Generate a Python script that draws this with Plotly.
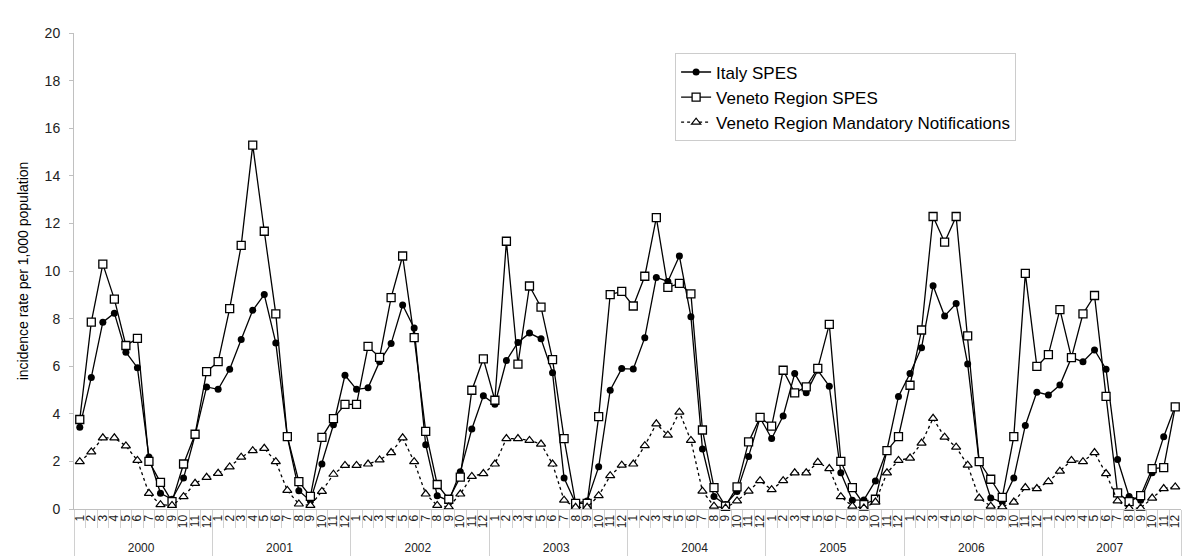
import plotly.graph_objects as go

years = ["2000", "2001", "2002", "2003", "2004", "2005", "2006", "2007"]
months = [str(m) for m in range(1, 13)]

italy_spes = [
    3.44, 5.53, 7.85, 8.23, 6.59, 5.94, 2.18, 0.66, 0.41, 1.30, 3.11, 5.13,
    5.03, 5.87, 7.12, 8.35, 9.01, 6.98, 3.04, 0.77, 0.34, 1.89, 3.54, 5.62,
    5.03, 5.09, 6.19, 6.95, 8.57, 7.60, 2.70, 0.56, 0.34, 1.56, 3.36, 4.76,
    4.40, 6.24, 7.00, 7.39, 7.15, 5.72, 1.30, 0.24, 0.34, 1.77, 4.99, 5.90,
    5.88, 7.20, 9.73, 9.56, 10.63, 8.08, 2.52, 0.52, 0.19, 0.74, 2.21, 3.83,
    2.96, 3.91, 5.69, 4.88, 5.83, 5.16, 1.52, 0.37, 0.38, 1.18, 2.48, 4.73,
    5.69, 6.78, 9.38, 8.11, 8.63, 6.09, 1.96, 0.46, 0.29, 1.30, 3.51, 4.91,
    4.79, 5.21, 6.36, 6.19, 6.68, 5.87, 2.08, 0.53, 0.37, 1.52, 3.04, 4.32,
]

veneto_spes = [
    3.76, 7.85, 10.29, 8.82, 6.87, 7.17, 2.00, 1.12, 0.31, 1.89, 3.14, 5.77,
    6.19, 8.42, 11.08, 15.29, 11.67, 8.20, 3.04, 1.15, 0.53, 3.01, 3.80, 4.40,
    4.40, 6.83, 6.37, 8.88, 10.63, 7.20, 3.26, 1.03, 0.41, 1.34, 4.99, 6.31,
    4.57, 11.25, 6.09, 9.37, 8.48, 6.28, 2.96, 0.24, 0.24, 3.88, 9.01, 9.14,
    8.53, 9.78, 12.24, 9.31, 9.48, 9.04, 3.32, 0.90, 0.12, 0.93, 2.82, 3.85,
    3.48, 5.83, 4.88, 5.13, 5.91, 7.76, 2.00, 0.90, 0.19, 0.41, 2.45, 3.04,
    5.20, 7.52, 12.29, 11.21, 12.29, 7.27, 1.99, 1.25, 0.49, 3.04, 9.90, 5.99,
    6.49, 8.38, 6.36, 8.20, 8.97, 4.73, 0.68, 0.31, 0.56, 1.70, 1.74, 4.29,
]

veneto_notifications = [
    1.99, 2.40, 2.99, 2.99, 2.65, 2.04, 0.66, 0.18, 0.15, 0.52, 1.08, 1.33,
    1.50, 1.77, 2.18, 2.45, 2.55, 1.99, 0.78, 0.21, 0.15, 0.74, 1.46, 1.83,
    1.83, 1.89, 2.06, 2.37, 2.99, 1.99, 0.63, 0.15, 0.09, 0.63, 1.37, 1.49,
    1.89, 2.96, 2.96, 2.88, 2.73, 1.89, 0.37, 0.07, 0.07, 0.56, 1.40, 1.84,
    1.89, 2.66, 3.58, 3.10, 4.07, 2.88, 0.75, 0.12, 0.04, 0.34, 0.75, 1.19,
    0.81, 1.19, 1.52, 1.52, 1.96, 1.70, 0.52, 0.12, 0.04, 0.29, 1.52, 2.04,
    2.14, 2.77, 3.81, 3.02, 2.60, 1.84, 0.46, 0.12, 0.09, 0.29, 0.90, 0.86,
    1.15, 1.59, 2.04, 1.99, 2.37, 1.49, 0.34, 0.04, 0.04, 0.46, 0.86, 0.93,
]

x_outer = [y for y in years for _ in months]
x_inner = [m for _ in years for m in months]
x = [x_outer, x_inner]

FONT = "Liberation Sans, Arial, sans-serif"

fig = go.Figure()
fig.add_trace(go.Scatter(
    x=x, y=italy_spes, name="Italy SPES", mode="lines+markers",
    line=dict(color="black", width=1.3),
    marker=dict(symbol="circle", size=7, color="black"),
    cliponaxis=False,
))
fig.add_trace(go.Scatter(
    x=x, y=veneto_spes, name="Veneto Region SPES", mode="lines+markers",
    line=dict(color="black", width=1.3),
    marker=dict(symbol="square", size=8, color="white", line=dict(color="black", width=1.3)),
    cliponaxis=False,
))
fig.add_trace(go.Scatter(
    x=x, y=veneto_notifications, name="Veneto Region Mandatory Notifications",
    mode="lines+markers",
    line=dict(color="black", width=1.3, dash="dot"),
    marker=dict(symbol="triangle-up", size=8, color="white", line=dict(color="black", width=1.2)),
    cliponaxis=False,
))

fig.update_layout(
    width=1200, height=559,
    margin=dict(l=66, r=27, t=25, b=50),
    paper_bgcolor="white", plot_bgcolor="white",
    font=dict(family=FONT, color="black", size=12),
    showlegend=True,
    legend=dict(
        x=0.543, y=0.957, xanchor="left", yanchor="top",
        bgcolor="white", bordercolor="#cccccc", borderwidth=1,
        font=dict(family=FONT, size=17, color="black"),
        tracegroupgap=0,
    ),
)
fig.update_yaxes(
    range=[0, 20], tick0=0, dtick=2,
    showgrid=False, zeroline=False,
    showline=True, linecolor="#c0c0c0", linewidth=1,
    ticks="outside", ticklen=4, tickcolor="#c0c0c0",
    ticklabelstandoff=6,
    tickfont=dict(family=FONT, size=14, color="#222222"),
    title=dict(text="incidence rate per 1,000 population",
               font=dict(family=FONT, size=14, color="black"), standoff=12),
)
fig.update_xaxes(
    type="multicategory",
    range=[-0.5, len(x_inner) - 0.5],
    tickmode="linear", tick0=0, dtick=1,
    showgrid=False, zeroline=False,
    showline=True, linecolor="#c0c0c0", linewidth=1,
    ticks="outside", ticklen=18, tickcolor="#d0d0d0",
    tickangle=-90,
    tickfont=dict(family=FONT, size=12, color="#222222"),
    showdividers=True, dividercolor="#d0d0d0", dividerwidth=1,
)

fig.write_html("out.html")
